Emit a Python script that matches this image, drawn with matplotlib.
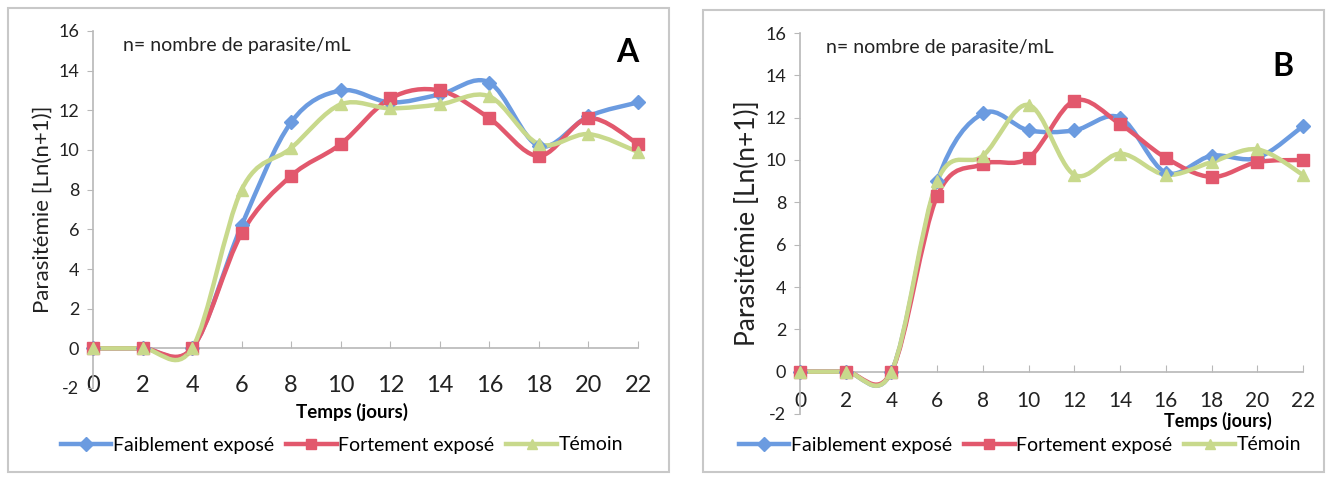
import matplotlib
matplotlib.use('Agg')
import matplotlib.pyplot as plt
from matplotlib.path import Path
from matplotlib import patches as pc
from matplotlib.lines import Line2D

# jours de prélèvement
jours = [0, 2, 4, 6, 8, 10, 12, 14, 16, 18, 20, 22]

# Figure A
faible_A = [0, 0, 0, 6.2, 11.4, 13.0, 12.4, 12.8, 13.4, 10.2, 11.7, 12.4]
forte_A = [0, 0, 0, 5.8, 8.7, 10.3, 12.6, 13.0, 11.6, 9.7, 11.6, 10.3]
temoin_A = [0, 0, 0, 8.0, 10.1, 12.3, 12.1, 12.3, 12.7, 10.3, 10.8, 9.9]

# Figure B
faible_B = [0, 0, 0, 9.0, 12.2, 11.4, 11.4, 12.0, 9.4, 10.2, 10.1, 11.6]
forte_B = [0, 0, 0, 8.3, 9.8, 10.1, 12.8, 11.7, 10.1, 9.2, 9.9, 10.0]
temoin_B = [0, 0, 0, 9.0, 10.2, 12.6, 9.3, 10.3, 9.3, 9.9, 10.5, 9.3]

SERIES = ['Faiblement exposé', 'Fortement exposé', 'Témoin']
COLORS = ['#6b9be0', '#e2586d', '#c8d98c']
MARKERS = ['D', 's', '^']
GREY = '#b8b8b8'

plt.rcParams['font.family'] = ['Lato', 'DejaVu Sans']
plt.rcParams['axes.unicode_minus'] = False

W, H = 1332, 479
fig = plt.figure(figsize=(W / 100, H / 100), dpi=100)


def px(x0, y0, x1, y1):
    # rectangle pixel -> fraction de figure
    return [x0 / W, 1 - y1 / H, (x1 - x0) / W, (y1 - y0) / H]


def smooth_path(x, y):
    # courbe lissée type Excel (Bezier, Catmull-Rom)
    verts = [(x[0], y[0])]
    codes = [Path.MOVETO]
    n = len(x)
    for i in range(n - 1):
        x0, y0 = (x[i - 1], y[i - 1]) if i > 0 else (x[i], y[i])
        x3, y3 = (x[i + 2], y[i + 2]) if i + 2 < n else (x[i + 1], y[i + 1])
        c1 = (x[i] + (x[i + 1] - x0) / 6.0, y[i] + (y[i + 1] - y0) / 6.0)
        c2 = (x[i + 1] - (x3 - x[i]) / 6.0, y[i + 1] - (y3 - y[i]) / 6.0)
        verts += [c1, c2, (x[i + 1], y[i + 1])]
        codes += [Path.CURVE4] * 3
    return Path(verts, codes)


def draw_panel(rect, data, letter, letter_pos, note_pos, ylab_size, xpad, xlab_size):
    ax = fig.add_axes(rect)
    ax.set_xlim(0, 22)
    ax.set_ylim(-2, 16)
    for s in ['top', 'right']:
        ax.spines[s].set_visible(False)
    ax.spines['bottom'].set_position(('data', 0))
    ax.spines['bottom'].set_color(GREY)
    ax.spines['left'].set_color(GREY)
    ax.spines['bottom'].set_linewidth(1.2)
    ax.spines['left'].set_linewidth(1.2)
    ax.set_xticks(jours)
    ax.set_yticks(range(-2, 17, 2))
    ax.tick_params(axis='x', direction='in', length=5, color=GREY, pad=xpad,
                   labelsize=xlab_size, labelcolor='#222222')
    ax.tick_params(axis='y', direction='out', length=4, color=GREY, pad=6,
                   labelsize=13, labelcolor='#222222')

    for vals, col, mk, name in zip(data, COLORS, MARKERS, SERIES):
        ax.add_patch(pc.PathPatch(smooth_path(jours, vals), facecolor='none',
                                  edgecolor=col, lw=3.2, clip_on=False, zorder=3))
        ax.plot(jours, vals, ls='none', marker=mk, ms=8 if mk != 'D' else 7,
                color=col, label=name, clip_on=False, zorder=4)

    ax.set_ylabel('Parasitémie [Ln(n+1)]', fontsize=ylab_size, color='#222222', labelpad=4)
    fig.text(note_pos[0] / W, 1 - note_pos[1] / H, 'n= nombre de parasite/mL',
             fontsize=14, va='center', ha='left', color='#222222')
    fig.text(letter_pos[0] / W, 1 - letter_pos[1] / H, letter, fontsize=23,
             fontweight='bold', ha='center', va='center')
    return ax


# cadres des deux graphiques
fig.patches.append(pc.Rectangle((8 / W, 1 - 472 / H), 661 / W, 464 / H, transform=fig.transFigure,
                                fill=False, edgecolor='#c8c8c8', lw=1.5))
fig.patches.append(pc.Rectangle((703 / W, 1 - 472 / H), 621 / W, 462 / H, transform=fig.transFigure,
                                fill=False, edgecolor='#c8c8c8', lw=1.5))

axA = draw_panel(px(93, 31, 638, 388), [faible_A, forte_A, temoin_A], 'A',
                 (627, 53), (123, 45), 16, 19, 17)
axB = draw_panel(px(800, 33, 1303, 414), [faible_B, forte_B, temoin_B], 'B',
                 (1283, 66), (826, 47), 19, 14, 15)

fig.text(352 / W, 1 - 412 / H, 'Temps (jours)', fontsize=13.5, fontweight='bold',
         ha='center', va='center')
fig.text(1218 / W, 1 - 421 / H, 'Temps (jours)', fontsize=13, fontweight='bold',
         ha='center', va='center')

# légendes
for ax, cx in [(axA, 342 / W), (axB, 1020 / W)]:
    h, l = ax.get_legend_handles_labels()
    hh = [Line2D([], [], color=c, lw=3.2, marker=m, ms=7) for c, m in zip(COLORS, MARKERS)]
    fig.legend(hh, l, loc='center', bbox_to_anchor=(cx, 1 - 445 / H), ncol=3,
               frameon=False, fontsize=14, handlelength=2.6, handletextpad=0.1,
               columnspacing=0.6)

fig.savefig('out.png', dpi=100)
